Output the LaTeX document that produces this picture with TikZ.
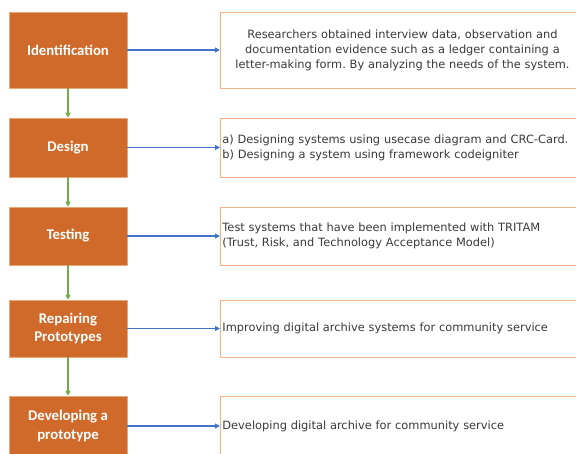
\documentclass[tikz,border=0pt]{standalone}
\usepackage{fontspec}
\setmainfont{DejaVu Sans}
\newfontfamily\stagefont{Carlito}
\usetikzlibrary{arrows.meta}
\frenchspacing
\definecolor{stagefill}{HTML}{D06A2B}
\definecolor{stageedge}{HTML}{E8A878}
\definecolor{noteedge}{HTML}{F4B183}
\definecolor{notetext}{HTML}{3A3A3A}
\definecolor{linkblue}{HTML}{4472C4}
\definecolor{flowgreen}{HTML}{70AD47}
\tikzset{
  stage/.style={draw=stageedge, line width=0.6pt, fill=stagefill, text=white,
    font=\stagefont\bfseries\fontsize{14.8}{18.5}\selectfont, align=center,
    minimum width=118pt, inner sep=0pt},
  note/.style={draw=noteedge, line width=0.9pt, fill=white, text=notetext,
    font=\fontsize{11.4}{15}\selectfont, text width=360pt, inner sep=2pt,
    anchor=west},
  link/.style={draw=linkblue, line width=1.1pt, -{Triangle[length=5pt,width=5pt]}},
  flow/.style={draw=flowgreen, line width=1.1pt, -{Triangle[length=5pt,width=5pt]}}
}
\begin{document}
\begin{tikzpicture}[x=1pt, y=-1pt]
\useasboundingbox (0,0) rectangle (576,453);
\clip (0,0) rectangle (576,453);
% process stages
\node[stage, minimum height=76pt] (id) at (68,50) {Identification};
\node[stage, minimum height=59pt] (ds) at (68,147.5) {Design};
\node[stage, minimum height=58pt] (ts) at (68,236) {Testing};
\node[stage, minimum height=57pt] (rp) at (68,328.5) {Repairing\\Prototypes};
\node[stage, minimum height=60pt] (dv) at (68,426) {Developing a\\prototype};
% descriptions
\node[note, minimum height=76pt, align=center] (idd) at (220,50)
  {Researchers obtained interview data, observation and\\documentation evidence such as a ledger containing a\\letter-making form. By analyzing the needs of the system.};
\node[note, minimum height=59pt, align=left] (dsd) at (220,147.5)
  {a) Designing systems using usecase diagram and CRC-Card.\\b) Designing a system using framework codeigniter};
\node[note, minimum height=58pt, align=left] (tsd) at (220,236)
  {Test systems that have been implemented with TRITAM\\(Trust, Risk, and Technology Acceptance Model)};
\node[note, minimum height=57pt, align=left] (rpd) at (220,328.5)
  {Improving digital archive systems for community service};
\node[note, minimum height=60pt, align=left] (dvd) at (220,426)
  {Developing digital archive for community service};
% connectors
\foreach \a/\b in {id/idd, ds/dsd, ts/tsd, rp/rpd, dv/dvd}
  \draw[link] (\a.east) -- (\b.west);
\foreach \a/\b in {id/ds, ds/ts, ts/rp, rp/dv}
  \draw[flow] (\a.south) -- (\b.north);
\end{tikzpicture}
\end{document}
